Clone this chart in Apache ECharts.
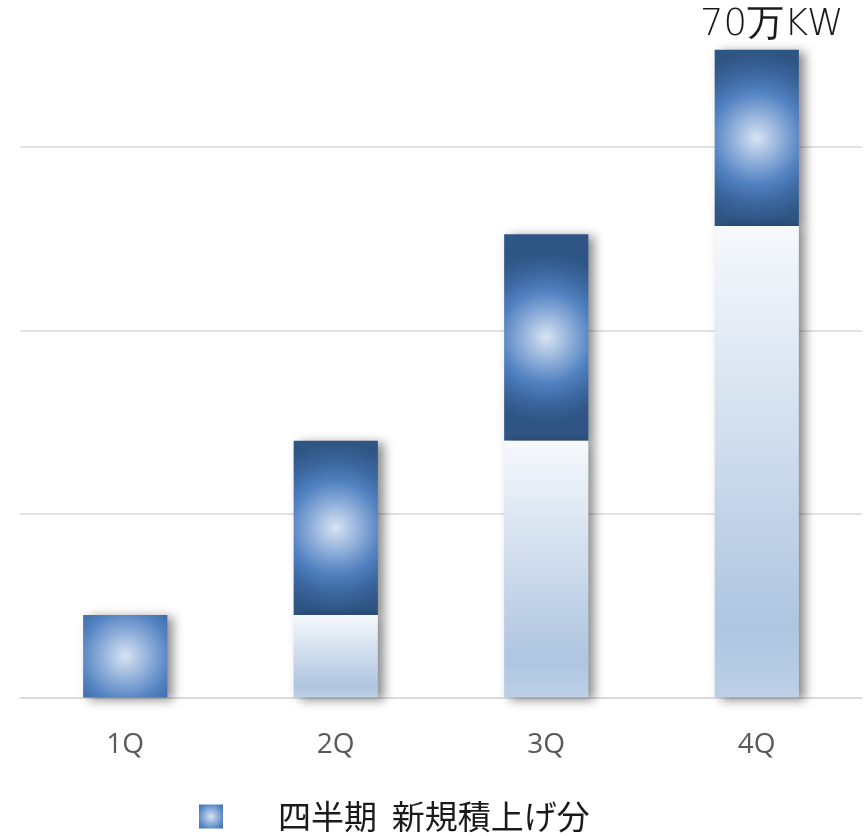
<!DOCTYPE html>
<html>
<head>
<meta charset="utf-8">
<script src="https://cdn.jsdelivr.net/npm/echarts@6/dist/echarts.min.js"></script>
<style>
  html, body { margin: 0; padding: 0; background: #fff; }
  #chart { width: 868px; height: 836px; }
</style>
</head>
<body>
<div id="chart"></div>
<script>
// quarters on the x axis
const quarters = ['1Q', '2Q', '3Q', '4Q']
// accumulated base up to the previous quarter
const baseValues = [0, 9, 28, 51.4]
// newly added in the quarter
const addedValues = [9, 19, 22.5, 19.2]
const addedName = '四半期  新規積上げ分'
const topLabel = '70万KW'

const chart = echarts.init(document.getElementById('chart'))

const topColor = new echarts.graphic.RadialGradient(0.5, 0.5, 1.0, [
  { offset: 0, color: '#d8e4f2' },
  { offset: 0.3, color: '#8dadd9' },
  { offset: 0.55, color: '#5181c1' },
  { offset: 0.78, color: '#3b669e' },
  { offset: 1, color: '#2f5584' },
])

const baseColor = new echarts.graphic.LinearGradient(0, 0, 0, 1, [
  { offset: 0, color: '#f6f9fc' },
  { offset: 0.85, color: '#afc5e0' },
  { offset: 1, color: '#bdd0e7' },
])

const shadow = {
  shadowBlur: 10,
  shadowOffsetX: 6,
  shadowOffsetY: 2,
  shadowColor: 'rgba(0,0,0,0.45)',
}

chart.setOption({
  animation: false,
  grid: { left: 20, right: 6, top: 37, bottom: 138.5 },
  legend: {
    data: [addedName],
    left: 194,
    top: 795,
    icon: 'rect',
    itemWidth: 24,
    itemHeight: 24,
    formatter: (name) => '{gap|}' + name,
    textStyle: {
      fontSize: 33,
      color: '#1a1a1a',
      fontFamily: 'Noto Sans CJK JP',
      rich: { gap: { width: 50 } },
    },
  },
  xAxis: {
    type: 'category',
    data: quarters,
    axisLine: { lineStyle: { color: '#d9d9d9', width: 1.5 } },
    axisTick: { show: false },
    axisLabel: {
      color: '#595959',
      fontSize: 28,
      margin: 34,
      fontFamily: 'Open Sans',
    },
  },
  yAxis: {
    type: 'value',
    min: 0,
    max: 72,
    interval: 20,
    axisLabel: { show: false },
    axisLine: { show: false },
    axisTick: { show: false },
    splitLine: {
      showMaxLine: false,
      lineStyle: { color: '#d9d9d9', width: 1.5 },
    },
  },
  series: [
    {
      name: '累計',
      type: 'bar',
      stack: 'total',
      barWidth: '40%',
      z: 3,
      itemStyle: { color: baseColor, ...shadow },
      data: baseValues,
    },
    {
      name: addedName,
      type: 'bar',
      stack: 'total',
      barWidth: '40%',
      z: 2,
      itemStyle: { color: topColor, ...shadow },
      data: addedValues.map((v, i) =>
        i === addedValues.length - 1
          ? {
              value: v,
              label: {
                show: true,
                position: 'top',
                distance: 6,
                offset: [15, 0],
                formatter: topLabel,
                fontSize: 37,
                fontWeight: 'lighter',
                color: '#1a1a1a',
                fontFamily: 'DejaVu Sans',
              },
            }
          : v
      ),
    },
  ],
})
</script>
</body>
</html>
